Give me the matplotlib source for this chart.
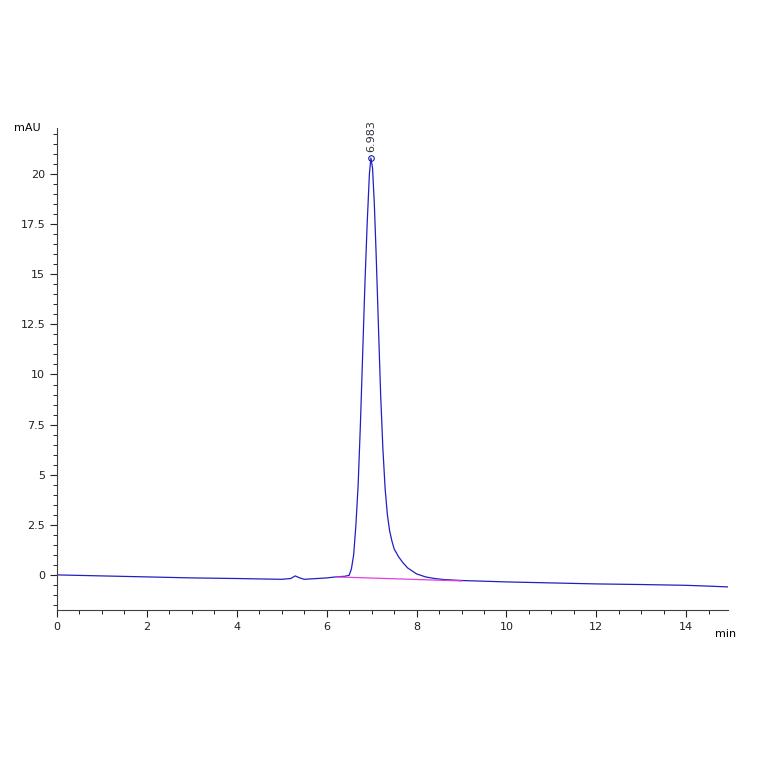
import matplotlib
matplotlib.use("Agg")
import matplotlib.pyplot as plt
from matplotlib.ticker import MultipleLocator

# trace (min, mAU)
TIME = [0.0, 1.0, 2.0, 3.0, 4.0, 5.0, 5.2, 5.3, 5.4, 5.5, 6.0, 6.2, 6.4, 6.5, 6.55, 6.6,
        6.65, 6.7, 6.75, 6.8, 6.85, 6.9, 6.95, 6.983, 7.02, 7.06, 7.1, 7.15, 7.2, 7.25,
        7.3, 7.35, 7.4, 7.45, 7.5, 7.6, 7.7, 7.8, 8.0, 8.2, 8.4, 8.6, 9.0, 10.0, 11.0,
        12.0, 13.0, 14.0, 14.5, 14.93]
SIGNAL = [0.0, -0.05, -0.1, -0.15, -0.18, -0.22, -0.18, -0.05, -0.15, -0.22, -0.15,
          -0.1, -0.07, -0.02, 0.3, 1.0, 2.5, 4.5, 7.5, 11.0, 14.5, 17.5, 20.0, 20.8,
          20.3, 18.5, 16.0, 12.5, 9.0, 6.3, 4.3, 3.0, 2.2, 1.7, 1.3, 0.9, 0.6, 0.35,
          0.05, -0.1, -0.18, -0.23, -0.28, -0.35, -0.4, -0.45, -0.48, -0.52, -0.56, -0.6]
BASE_T = [6.2, 9.0]
BASE_Y = [-0.1, -0.3]
PEAK_T, PEAK_Y = 6.983, 20.8

fig = plt.figure(figsize=(7.64, 7.64), dpi=100)
ax = fig.add_axes([0.0746, 0.2016, 0.8784, 0.6309])
ax.plot(TIME, SIGNAL, color="#2020c0", lw=0.9)
ax.plot(BASE_T, BASE_Y, color="#e040e0", lw=0.9)
ax.plot([PEAK_T], [PEAK_Y], "o", ms=4, mfc="none", mec="#2020a0", mew=0.8)
ax.text(PEAK_T, PEAK_Y + 0.3, f"{PEAK_T:.3f}", rotation=90, ha="center", va="bottom",
        fontsize=8, color="#303040")

ax.set_xlim(0, 14.93)
ax.set_ylim(-1.75, 22.3)
ax.xaxis.set_major_locator(MultipleLocator(2))
ax.xaxis.set_minor_locator(MultipleLocator(0.5))
ax.yaxis.set_major_locator(MultipleLocator(2.5))
ax.yaxis.set_minor_locator(MultipleLocator(0.5))
ax.set_yticks([0, 2.5, 5, 7.5, 10, 12.5, 15, 17.5, 20])
ax.set_yticklabels(["0", "2.5", "5", "7.5", "10", "12.5", "15", "17.5", "20"])
for s in ("top", "right"):
    ax.spines[s].set_visible(False)
for s in ("left", "bottom"):
    ax.spines[s].set_color("#404040")
ax.tick_params(labelsize=8, colors="#202020", length=5)
ax.tick_params(which="minor", length=3)
ax.text(-0.025, 1.0, "mAU", transform=ax.transAxes, ha="right", va="center", fontsize=8)
ax.text(0.98, -0.05, "min", transform=ax.transAxes, ha="left", va="center", fontsize=8)

fig.savefig("out.png")
